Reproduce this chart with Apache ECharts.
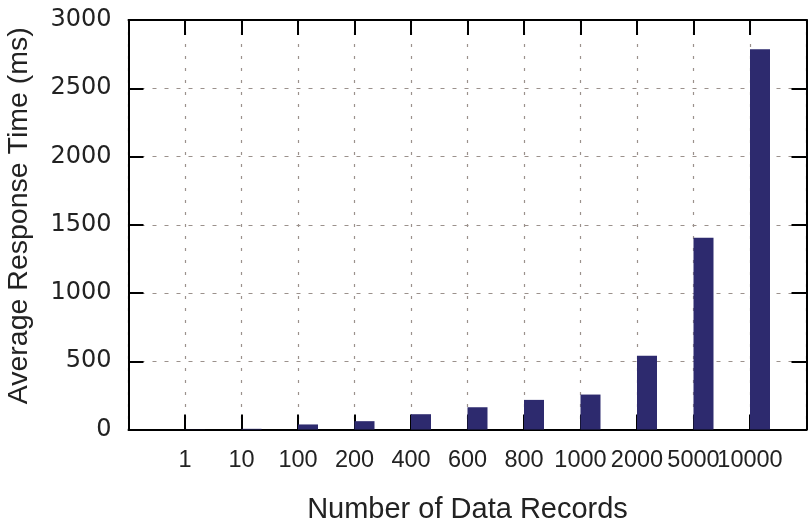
<!DOCTYPE html>
<html>
<head>
<meta charset="utf-8">
<script src="https://cdn.jsdelivr.net/npm/echarts@6/dist/echarts.min.js"></script>
<style>html,body{margin:0;padding:0;background:#fff;}#c{width:808px;height:521px;}</style>
</head>
<body>
<div id="c"></div>
<script>
const categories = ['1', '10', '100', '200', '400', '600', '800', '1000', '2000', '5000', '10000'];
const responseTimes = [1, 5, 37, 61, 112, 163, 217, 256, 541, 1405, 2785];
const yTicks = [0, 500, 1000, 1500, 2000, 2500, 3000];
const xTitle = 'Number of Data Records';
const yTitle = 'Average Response Time (ms)';

const paddedCats = [''].concat(categories, ['']);
const paddedVals = [null].concat(responseTimes, [null]);
const font = 'Liberation Sans, Arial, sans-serif';
const wideFont = '"DejaVu Sans", sans-serif';
const gridStyle = { color: '#9b918c', width: 1.2, type: [4, 8] };
const axisLineStyle = { color: '#000', width: 2 };

const chart = echarts.init(document.getElementById('c'));
chart.setOption({
  animation: false,
  backgroundColor: '#fff',
  grid: { left: 128.5, right: 1.5, top: 20, bottom: 91.5, containLabel: false, outerBoundsMode: 'none' },
  xAxis: [{
    type: 'category', data: paddedCats, boundaryGap: false, position: 'bottom',
    axisLine: { lineStyle: axisLineStyle },
    axisTick: { inside: true, length: 15, lineStyle: axisLineStyle },
    axisLabel: { color: '#222', fontFamily: font, fontSize: 23.5, margin: 19, interval: 0, hideOverlap: false },
    splitLine: { show: true, lineStyle: { color: '#9b918c', width: 1.2, type: [3, 9] } },
    name: xTitle, nameLocation: 'middle', nameGap: 66,
    nameTextStyle: { color: '#222', fontFamily: font, fontSize: 29 }
  }, {
    type: 'category', data: paddedCats, boundaryGap: false, position: 'top',
    axisLine: { onZero: false, lineStyle: axisLineStyle },
    axisTick: { inside: true, length: 15, lineStyle: axisLineStyle },
    axisLabel: { show: false }, splitLine: { show: false }
  }],
  yAxis: [{
    type: 'value', min: 0, max: 3000, interval: 500, position: 'left',
    axisLine: { show: true, onZero: false, lineStyle: axisLineStyle },
    axisTick: { show: true, inside: true, length: 15, lineStyle: axisLineStyle },
    axisLabel: { color: '#222', fontFamily: wideFont, fontSize: 24, margin: 17,
      formatter: v => yTicks.includes(v) ? String(v) : '' },
    splitLine: { show: true, lineStyle: gridStyle },
    name: yTitle, nameLocation: 'middle', nameGap: 95,
    nameTextStyle: { color: '#222', fontFamily: font, fontSize: 28.5, padding: [0, 0, 0, 18] }
  }, {
    type: 'value', min: 0, max: 3000, interval: 500, position: 'right',
    axisLine: { show: true, onZero: false, lineStyle: axisLineStyle },
    axisTick: { show: true, inside: true, length: 15, lineStyle: axisLineStyle },
    axisLabel: { show: false }, splitLine: { show: false }
  }],
  series: [{
    type: 'bar', xAxisIndex: 0, yAxisIndex: 0, data: paddedCats.map(() => null),
    barWidth: 20, barGap: '0%', silent: true
  }, {
    type: 'bar', xAxisIndex: 0, yAxisIndex: 0, data: paddedVals,
    barWidth: 20, barGap: '0%',
    itemStyle: { color: '#2d2a6e' }
  }]
});
</script>
</body>
</html>
